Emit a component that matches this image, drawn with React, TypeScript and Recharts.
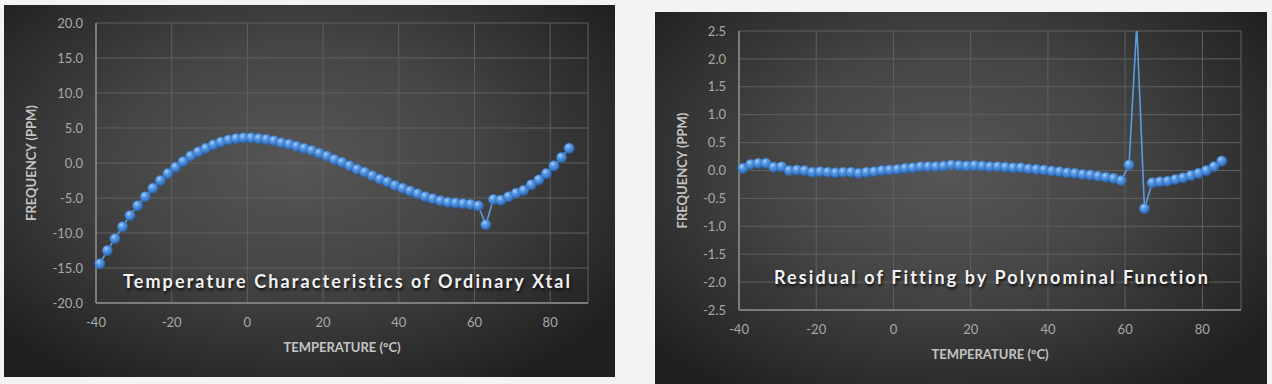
import React from "react";
import {
  CartesianGrid,
  Line,
  LineChart,
  XAxis,
  YAxis,
} from "recharts";

const temps = [
  -39, -37, -35, -33, -31, -29, -27, -25, -23, -21, -19, -17, -15, -13, -11,
  -9, -7, -5, -3, -1, 1, 3, 5, 7, 9, 11, 13, 15, 17, 19, 21, 23, 25, 27, 29,
  31, 33, 35, 37, 39, 41, 43, 45, 47, 49, 51, 53, 55, 57, 59, 61, 63, 65, 67,
  69, 71, 73, 75, 77, 79, 81, 83, 85,
];

const frequency = [
  -14.4, -12.5, -10.8, -9.1, -7.5, -6.1, -4.8, -3.6, -2.5, -1.5, -0.6, 0.2,
  1.0, 1.6, 2.1, 2.6, 3.0, 3.3, 3.5, 3.6, 3.6, 3.5, 3.4, 3.2, 2.9, 2.7, 2.4,
  2.1, 1.8, 1.4, 1.0, 0.5, 0.1, -0.4, -0.9, -1.3, -1.8, -2.3, -2.7, -3.2,
  -3.6, -4.0, -4.4, -4.8, -5.1, -5.4, -5.6, -5.7, -5.8, -5.9, -6.1, -8.8,
  -5.2, -5.3, -4.8, -4.3, -3.9, -3.1, -2.4, -1.5, -0.4, 0.8, 2.1,
];

const residual = [
  0.04, 0.11, 0.13, 0.13, 0.06, 0.07, 0.0, 0.01, 0.0, -0.03, -0.02, -0.03,
  -0.04, -0.03, -0.03, -0.05, -0.03, -0.02, 0.0, 0.01, 0.02, 0.04, 0.05, 0.07,
  0.07, 0.07, 0.08, 0.1, 0.09, 0.08, 0.09, 0.08, 0.07, 0.07, 0.06, 0.05, 0.05,
  0.03, 0.02, 0.01, -0.01, -0.02, -0.04, -0.05, -0.07, -0.08, -0.1, -0.12,
  -0.14, -0.18, 0.1, 2.6, -0.68, -0.22, -0.2, -0.19, -0.16, -0.13, -0.09,
  -0.05, 0.0, 0.07, 0.17,
];

const xTicks = [-40, -20, 0, 20, 40, 60, 80];
const freqTicks = [-20, -15, -10, -5, 0, 5, 10, 15, 20];
const residTicks = [-2.5, -2, -1.5, -1, -0.5, 0, 0.5, 1, 1.5, 2, 2.5];

const freqData = temps.map((t, i) => ({ t, v: frequency[i] }));
const residData = temps.map((t, i) => ({ t, v: residual[i] }));

const FONT = "Lato, 'Open Sans', sans-serif";
const tickStyle = { fill: "#a8a8a8", fontSize: 13, fontFamily: FONT };
const axisTitle = {
  fill: "#c4c4c4",
  fontSize: 13,
  fontWeight: 700,
  fontFamily: FONT,
};

const Ball = (props: any) => {
  const { cx, cy, index } = props;
  if (cx == null || cy == null) return <g key={`b${index}`} />;
  return (
    <circle
      key={`b${index}`}
      cx={cx}
      cy={cy}
      r={5.2}
      fill="url(#ball)"
      stroke="#2f67ad"
      strokeWidth={0.4}
    />
  );
};

interface PanelProps {
  left: number;
  top: number;
  width: number;
  height: number;
  yWidth: number;
  margin: { top: number; right: number; bottom: number; left: number };
  data: { t: number; v: number }[];
  yDomain: [number, number];
  yTicks: number[];
  title: string;
  titleX: number;
  titleY: number;
}

function Panel(p: PanelProps) {
  return (
    <div
      style={{
        position: "absolute",
        left: p.left,
        top: p.top,
        width: p.width,
        height: p.height,
        background:
          "radial-gradient(ellipse 65% 70% at 48% 42%, #565656 0%, #454545 45%, #2d2d2d 80%, #1f1f1f 100%)",
      }}
    >
      <LineChart width={p.width} height={p.height} data={p.data} margin={p.margin}>
        <CartesianGrid stroke="#606060" strokeWidth={1} />
        <XAxis
          dataKey="t"
          type="number"
          domain={[-40, 90]}
          ticks={xTicks}
          interval={0}
          tickLine={false}
          tickSize={6}
          tickMargin={9}
          axisLine={{ stroke: "#8c8c8c", strokeWidth: 1.5 }}
          tick={tickStyle}
          label={{
            value: "TEMPERATURE (°C)",
            position: "insideBottom",
            offset: 25,
            style: axisTitle,
          }}
          height={74}
        />
        <YAxis
          type="number"
          domain={p.yDomain}
          ticks={p.yTicks}
          interval={0}
          allowDataOverflow
          width={p.yWidth}
          tickLine={false}
          tickSize={8}
          tickMargin={5}
          axisLine={{ stroke: "#8c8c8c", strokeWidth: 1.5 }}
          tick={tickStyle}
          tickFormatter={(v: number) => v.toFixed(1)}
          label={{
            value: "FREQUENCY (PPM)",
            angle: -90,
            position: "insideLeft",
            offset: 27,
            style: { ...axisTitle, textAnchor: "middle" },
          }}
        />
        <Line
          type="linear"
          dataKey="v"
          stroke="#5b9be0"
          strokeWidth={1.6}
          dot={Ball}
          activeDot={false}
          isAnimationActive={false}
        />
      </LineChart>
      <div
        style={{
          position: "absolute",
          left: p.titleX,
          top: p.titleY,
          color: "#f2f2f2",
          fontFamily: FONT,
          fontWeight: 700,
          fontSize: 18,
          letterSpacing: 2.1,
          whiteSpace: "nowrap",
          textShadow: "1px 2px 3px rgba(0,0,0,0.85)",
        }}
      >
        {p.title}
      </div>
    </div>
  );
}

export default function App() {
  return (
    <div
      style={{
        position: "absolute",
        left: 0,
        top: 0,
        width: 1272,
        height: 384,
        background: "#f3f3f3",
        overflow: "hidden",
      }}
    >
      <svg width={0} height={0} style={{ position: "absolute" }}>
        <defs>
          <radialGradient id="ball" cx="38%" cy="32%" r="70%">
            <stop offset="0%" stopColor="#a9d0fb" />
            <stop offset="35%" stopColor="#5a9be6" />
            <stop offset="75%" stopColor="#3b7ccc" />
            <stop offset="100%" stopColor="#2a5d9e" />
          </radialGradient>
        </defs>
      </svg>
      <Panel
        left={4}
        top={5}
        width={611}
        height={372}
        yWidth={92}
        margin={{ top: 18, right: 27, bottom: 0, left: 0 }}
        data={freqData}
        yDomain={[-20, 20]}
        yTicks={freqTicks}
        title="Temperature Characteristics of Ordinary Xtal"
        titleX={119}
        titleY={265}
      />
      <Panel
        left={655}
        top={12}
        width={612}
        height={380}
        yWidth={84}
        margin={{ top: 19, right: 26, bottom: 8, left: 0 }}
        data={residData}
        yDomain={[-2.5, 2.5]}
        yTicks={residTicks}
        title="Residual of Fitting by Polynominal Function"
        titleX={119}
        titleY={254}
      />
    </div>
  );
}
